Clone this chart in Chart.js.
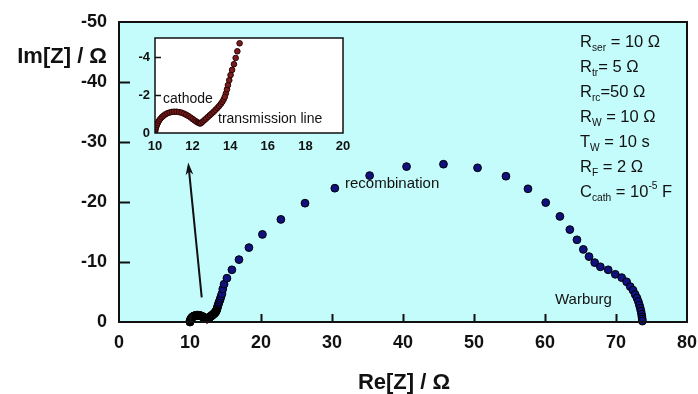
<!DOCTYPE html>
<html>
<head>
<meta charset="utf-8">
<script src="https://cdn.jsdelivr.net/npm/chart.js@4/dist/chart.umd.min.js"></script>
<style>
  html, body { margin: 0; padding: 0; background: #fff; }
  #wrap { position: relative; width: 698px; height: 394px; }
  #main { position: absolute; left: 0; top: 0; }
  #inset { position: absolute; left: 120px; top: 28px; }
</style>
</head>
<body>
<div id="wrap">
  <canvas id="main" width="698" height="394"></canvas>
  <canvas id="inset" width="231" height="132"></canvas>
</div>
<script>
// high-frequency part: cathode arc + transmission line (Re, -Im in ohm)
const hfRe = [10.0, 10.01, 10.03, 10.06, 10.1, 10.15, 10.21, 10.28, 10.36, 10.45, 10.55, 10.66, 10.78,
  10.9, 11.02, 11.15, 11.28, 11.41, 11.54, 11.66, 11.78, 11.9, 12.01, 12.11, 12.2, 12.28, 12.35, 12.4,
  12.46, 12.54, 12.63, 12.72, 12.82, 12.92, 13.02, 13.12, 13.22, 13.32, 13.41, 13.5, 13.58, 13.65, 13.71];
const hfIm = [0.0, -0.1, -0.2, -0.31, -0.42, -0.53, -0.64, -0.74, -0.83, -0.91, -0.98, -1.04, -1.08,
  -1.11, -1.12, -1.12, -1.1, -1.07, -1.02, -0.96, -0.89, -0.81, -0.73, -0.66, -0.6, -0.55, -0.52, -0.5,
  -0.53, -0.6, -0.68, -0.76, -0.85, -0.94, -1.03, -1.12, -1.22, -1.32, -1.42, -1.53, -1.64, -1.76, -1.9];

// recombination arc and Warburg tail
const lfRe = [13.77, 13.83, 13.88, 13.95, 14.02, 14.1, 14.2, 14.29, 14.38, 14.5, 14.62, 14.8, 15.2, 15.9, 16.9,
  18.3, 20.2, 22.8, 26.2, 30.4, 35.3, 40.5, 45.7, 50.5, 54.5, 57.6, 60.1, 62.1, 63.5, 64.5,
  65.4, 66.2, 67.0, 67.8, 68.9, 69.9, 70.8, 71.5, 72.0, 72.4, 72.7, 72.95, 73.15, 73.3, 73.42,
  73.52, 73.6, 73.65, 73.69, 73.72];
const lfIm = [-2.08, -2.3, -2.52, -2.78, -3.05, -3.32, -3.62, -3.95, -4.3, -4.72, -5.5, -6.3, -7.3, -8.7, -10.4,
  -12.4, -14.6, -17.1, -19.8, -22.3, -24.4, -25.9, -26.3, -25.7, -24.3, -22.2, -19.9, -17.6, -15.4, -13.7,
  -12.1, -10.9, -9.9, -9.2, -8.7, -7.95, -7.4, -6.7, -5.9, -5.3, -4.6, -4.0, -3.4, -2.8, -2.3,
  -1.8, -1.3, -0.85, -0.5, -0.15];

const xTicks = [0, 10, 20, 30, 40, 50, 60, 70, 80];
const yTicks = [0, -10, -20, -30, -40, -50];
const insetXTicks = [10, 12, 14, 16, 18, 20];
const insetYTicks = [0, -2, -4];

const params = [
  [['R', ''], ['ser', 'sub'], [' = 10 \u03A9', '']],
  [['R', ''], ['tr', 'sub'], ['= 5 \u03A9', '']],
  [['R', ''], ['rc', 'sub'], ['=50 \u03A9', '']],
  [['R', ''], ['W', 'sub'], [' = 10 \u03A9', '']],
  [['T', ''], ['W', 'sub'], [' = 10 s', '']],
  [['R', ''], ['F', 'sub'], [' = 2 \u03A9', '']],
  [['C', ''], ['cath', 'sub'], [' = 10', ''], ['-5', 'sup'], [' F', '']]
];

const FONT = '"Liberation Sans", Arial, sans-serif';

function pts(xs, ys) {
  return xs.map((x, i) => ({ x: x, y: ys[i] }));
}

function setTicks(list) {
  return scale => { scale.ticks = list.map(v => ({ value: v })); };
}

// fixed axis size; end labels may hang past the plot edge
function fixHeight(h) {
  return s => { s.height = h; s.paddingLeft = 0; s.paddingRight = 0; };
}

function drawRich(ctx, segs, x, y, size) {
  ctx.textBaseline = 'middle';
  ctx.textAlign = 'left';
  segs.forEach(([t, mode]) => {
    let s = size, dy = 0;
    if (mode === 'sub') { s = size * 0.62; dy = size * 0.38; }
    if (mode === 'sup') { s = size * 0.62; dy = -size * 0.36; }
    ctx.font = s + 'px ' + FONT;
    ctx.fillText(t, x, y + dy);
    x += ctx.measureText(t).width;
  });
}

const mainDecor = {
  id: 'mainDecor',
  beforeDatasetsDraw(chart) {
    const { ctx, chartArea: a } = chart;
    ctx.save();
    ctx.fillStyle = '#c4fbfb';
    ctx.fillRect(a.left, a.top, a.right - a.left, a.bottom - a.top);
    ctx.restore();
  },
  afterDraw(chart) {
    const { ctx, chartArea: a, scales: { x, y } } = chart;
    ctx.save();
    ctx.strokeStyle = '#111';
    ctx.lineWidth = 2;
    ctx.strokeRect(a.left, a.top, a.right - a.left, a.bottom - a.top);
    // inward tick marks
    ctx.beginPath();
    xTicks.slice(1, -1).forEach(v => {
      const px = Math.round(x.getPixelForValue(v)) + 0.5;
      ctx.moveTo(px, a.bottom); ctx.lineTo(px, a.bottom - 8);
    });
    yTicks.slice(1, -1).forEach(v => {
      const py = Math.round(y.getPixelForValue(v)) + 0.5;
      ctx.moveTo(a.left, py); ctx.lineTo(a.left + 11, py);
    });
    ctx.stroke();

    // arrow pointing up to the inset
    const x0 = x.getPixelForValue(11.65), y0 = y.getPixelForValue(-4.1);
    const x1 = x.getPixelForValue(9.75), y1 = y.getPixelForValue(-26.6);
    const ang = Math.atan2(y1 - y0, x1 - x0);
    ctx.lineWidth = 2;
    ctx.beginPath();
    ctx.moveTo(x0, y0);
    ctx.lineTo(x1 - Math.cos(ang) * 4, y1 - Math.sin(ang) * 4);
    ctx.stroke();
    ctx.fillStyle = '#111';
    ctx.beginPath();
    ctx.moveTo(x1, y1);
    ctx.lineTo(x1 - Math.cos(ang - 0.3) * 13, y1 - Math.sin(ang - 0.3) * 13);
    ctx.lineTo(x1 - Math.cos(ang) * 9, y1 - Math.sin(ang) * 9);
    ctx.lineTo(x1 - Math.cos(ang + 0.3) * 13, y1 - Math.sin(ang + 0.3) * 13);
    ctx.closePath();
    ctx.fill();

    // axis titles
    ctx.fillStyle = '#111';
    ctx.font = 'bold 22px ' + FONT;
    ctx.textBaseline = 'middle';
    ctx.textAlign = 'right';
    ctx.fillText('Im[Z] / \u03A9', 107, 57);
    ctx.textAlign = 'center';
    ctx.fillText('Re[Z] / \u03A9', 404, 383);

    // region labels
    ctx.font = '15px ' + FONT;
    ctx.textAlign = 'left';
    ctx.fillText('recombination', 345, 184);
    ctx.fillText('Warburg', 555, 300);

    // circuit parameters
    params.forEach((segs, i) => drawRich(ctx, segs, 580, 42 + i * 25, 16.5));
    ctx.restore();
  }
};

new Chart(document.getElementById('main'), {
  type: 'scatter',
  data: {
    datasets: [
      { data: pts(hfRe, hfIm), backgroundColor: '#000', borderColor: '#000', borderWidth: 1, pointRadius: 4, clip: 6 },
      { data: pts(lfRe, lfIm), backgroundColor: '#10107e', borderColor: '#000', borderWidth: 1, pointRadius: 3.9, clip: 6 }
    ]
  },
  options: {
    responsive: false,
    animation: false,
    layout: { padding: { top: 22, right: 11, left: 0, bottom: 0 } },
    plugins: { legend: { display: false }, tooltip: { enabled: false } },
    scales: {
      x: {
        type: 'linear', min: 0, max: 80,
        afterBuildTicks: setTicks(xTicks),
        afterFit: fixHeight(72),
        grid: { display: false, drawTicks: false },
        border: { display: false },
        ticks: { color: '#111', padding: 10, maxRotation: 0, font: { family: FONT, size: 18, weight: 'bold' } }
      },
      y: {
        type: 'linear', min: -50, max: 0, reverse: true,
        afterBuildTicks: setTicks(yTicks),
        afterFit: s => { s.width = 119; s.paddingTop = 0; s.paddingBottom = 0; },
        grid: { display: false, drawTicks: false },
        border: { display: false },
        ticks: { color: '#111', padding: 12, font: { family: FONT, size: 18, weight: 'bold' } }
      }
    }
  },
  plugins: [mainDecor]
});

const insetDecor = {
  id: 'insetDecor',
  beforeDatasetsDraw(chart) {
    const { ctx, chartArea: a } = chart;
    ctx.save();
    ctx.fillStyle = '#fff';
    ctx.fillRect(a.left, a.top, a.right - a.left, a.bottom - a.top);
    ctx.restore();
  },
  afterDraw(chart) {
    const { ctx, chartArea: a, scales: { y } } = chart;
    ctx.save();
    ctx.strokeStyle = '#111';
    ctx.lineWidth = 1.5;
    ctx.strokeRect(a.left, a.top, a.right - a.left, a.bottom - a.top);
    ctx.beginPath();
    insetYTicks.slice(1).forEach(v => {
      const py = Math.round(y.getPixelForValue(v)) + 0.5;
      ctx.moveTo(a.left, py); ctx.lineTo(a.left + 6, py);
    });
    ctx.stroke();
    ctx.fillStyle = '#111';
    ctx.font = '14px ' + FONT;
    ctx.textBaseline = 'middle';
    ctx.textAlign = 'left';
    ctx.fillText('cathode', 163 - 120, 99 - 28);
    ctx.fillText('transmission line', 218 - 120, 119 - 28);
    ctx.restore();
  }
};

new Chart(document.getElementById('inset'), {
  type: 'scatter',
  data: {
    datasets: [
      { data: pts(hfRe, hfIm), backgroundColor: '#7a1c1c', borderColor: '#2a0505', borderWidth: 1, pointRadius: 2.8 },
      { data: pts(lfRe, lfIm), backgroundColor: '#7a1c1c', borderColor: '#2a0505', borderWidth: 1, pointRadius: 2.8 }
    ]
  },
  options: {
    responsive: false,
    animation: false,
    layout: { padding: { top: 10, right: 8, left: 0, bottom: 0 } },
    plugins: { legend: { display: false }, tooltip: { enabled: false } },
    scales: {
      x: {
        type: 'linear', min: 10, max: 20,
        afterBuildTicks: setTicks(insetXTicks),
        afterFit: fixHeight(27),
        grid: { display: false, drawTicks: false },
        border: { display: false },
        ticks: { color: '#111', padding: 6, maxRotation: 0, font: { family: FONT, size: 13, weight: 'bold' } }
      },
      y: {
        type: 'linear', min: -5, max: 0, reverse: true,
        afterBuildTicks: setTicks(insetYTicks),
        afterFit: s => { s.width = 35; s.paddingTop = 0; s.paddingBottom = 0; },
        grid: { display: false, drawTicks: false },
        border: { display: false },
        ticks: { color: '#111', padding: 5, font: { family: FONT, size: 13, weight: 'bold' } }
      }
    }
  },
  plugins: [insetDecor]
});
</script>
</body>
</html>
